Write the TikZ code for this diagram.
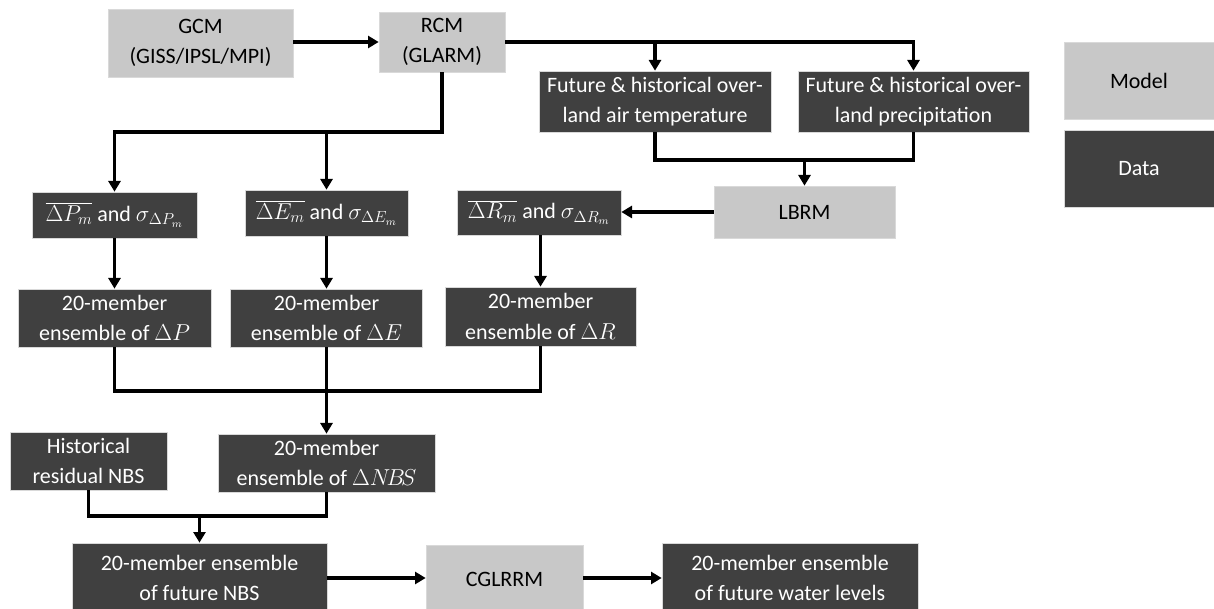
\documentclass[tikz,border=0pt]{standalone}
\usepackage{fontspec}
\setmainfont{Carlito}
\usetikzlibrary{arrows.meta}
\definecolor{modelgray}{RGB}{200,200,200}
\definecolor{datagray}{RGB}{64,64,64}
\tikzset{
	blk/.style={draw=black!15, line width=0.5pt, inner sep=0pt, align=center,
		font=\fontsize{16.5}{23}\selectfont},
	modelbox/.style={blk, fill=modelgray, text=black},
	databox/.style={blk, fill=datagray, text=white},
	link/.style={line width=2.3pt, draw=black},
	flow/.style={link, -{Triangle[length=8pt,width=9pt]}}
}

\begin{document}
\begin{tikzpicture}[x=0.75pt, y=-0.75pt]
			%%%%% START %%%%%
			\useasboundingbox (0,0) rectangle (1214,609);
			
			% models
			\node[modelbox, minimum width=138.75pt, minimum height=51pt] (gcm) at (200.5,43) {GCM\\(GISS/IPSL/MPI)};
			\node[modelbox, minimum width=94.5pt, minimum height=45pt] (rcm) at (442,42) {RCM\\(GLARM)};
			\node[modelbox, minimum width=135.75pt, minimum height=39pt] (lbrm) at (804.5,212) {LBRM};
			\node[modelbox, minimum width=117.75pt, minimum height=51pt] (cglrrm) at (504.5,579) {CGLRRM};
			
			% climate data
			\node[databox, minimum width=174pt, minimum height=45.75pt] (temp) at (655,101.5) {Future \& historical over-\\land air temperature};
			\node[databox, minimum width=173.25pt, minimum height=45.75pt] (precip) at (913.5,101.5) {Future \& historical over-\\land precipitation};
			
			\node[databox, minimum width=123.75pt, minimum height=34.5pt] (dpm) at (114.5,215) {$\overline{\Delta P_m}$ and $\sigma_{\Delta P_m}$};
			\node[databox, minimum width=122.25pt, minimum height=34.5pt] (dem) at (326.5,213) {$\overline{\Delta E_m}$ and $\sigma_{\Delta E_m}$};
			\node[databox, minimum width=123pt, minimum height=33.75pt] (drm) at (539,212.5) {$\overline{\Delta R_m}$ and $\sigma_{\Delta R_m}$};
			
			\node[databox, minimum width=144.75pt, minimum height=43.5pt] (ensp) at (114.5,318) {20-member\\ensemble of $\Delta P$};
			\node[databox, minimum width=144pt, minimum height=43.5pt] (ense) at (326.5,318) {20-member\\ensemble of $\Delta E$};
			\node[databox, minimum width=143.25pt, minimum height=44.25pt] (ensr) at (540.5,316.5) {20-member\\ensemble of $\Delta R$};
			
			\node[databox, minimum width=117.75pt, minimum height=43.5pt] (hist) at (88.5,461) {Historical\\residual NBS};
			\node[databox, minimum width=162.75pt, minimum height=43.5pt] (ensnbs) at (326.5,463) {20-member\\ensemble of $\Delta N\!B\!S$};
			
			\node[databox, minimum width=191.25pt, minimum height=52.5pt] (futnbs) at (199.5,578) {20-member ensemble\\of future NBS};
			\node[databox, minimum width=192pt, minimum height=52.5pt] (water) at (790,578) {20-member ensemble\\of future water levels};
			
			% legend
			\node[modelbox, minimum width=112.5pt, minimum height=57.75pt] (lgmodel) at (1139,80.5) {Model};
			\node[databox, minimum width=112.5pt, minimum height=57.75pt] (lgdata) at (1139,168.5) {Data};
			
			% junctions
			\coordinate (rsplit) at (442,132);
			\coordinate (tmerge) at (804.5,160);
			\coordinate (emerge) at (326.5,391);
			\coordinate (nmerge) at (199.5,516);
			
			% connectors
			\draw[flow] (gcm.east |- rcm.west) -- (rcm.west);
			\draw[flow] (rcm.east) -| (precip.north);
			\draw[flow] (rcm.east -| temp.north) -- (temp.north);
			
			\draw[flow] (rcm.south) -- (rsplit) -| (dpm.north);
			\draw[flow] (dem.north |- rsplit) -- (dem.north);
			
			\draw[link] (temp.south) |- (tmerge) -| (precip.south);
			\draw[flow] (tmerge) -- (lbrm.north);
			\draw[flow] (lbrm.west) -- (drm.east |- lbrm.west);
			
			\draw[flow] (dpm.south) -- (ensp.north);
			\draw[flow] (dem.south) -- (ense.north);
			\draw[flow] (ensr.north |- drm.south) -- (ensr.north);
			
			\draw[link] (ensp.south) |- (emerge) -| (ensr.south);
			\draw[link] (ense.south) -- (emerge);
			\draw[flow] (emerge) -- (ensnbs.north);
			
			\draw[link] (hist.south) |- (nmerge) -| (ensnbs.south);
			\draw[flow] (nmerge) -- (futnbs.north);
			
			\draw[flow] (futnbs.east) -- (cglrrm.west |- futnbs.east);
			\draw[flow] (cglrrm.east |- water.west) -- (water.west);
			%%%%% END %%%%%
\end{tikzpicture}
\end{document}
